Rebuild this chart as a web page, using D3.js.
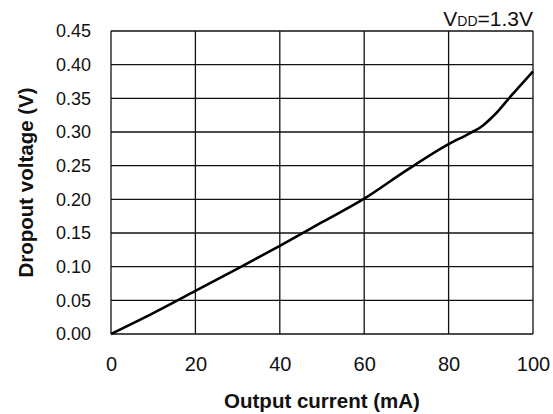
<!DOCTYPE html>
<html>
<head>
<meta charset="utf-8">
<script src="https://cdn.jsdelivr.net/npm/d3@7"></script>
<style>
  body { margin: 0; background: #fff; }
  text { font-family: "Liberation Sans", Arial, sans-serif; fill: #111; }
</style>
</head>
<body>
<div id="chart"></div>
<script>
// data
var currentMA = [0, 10, 20, 30, 40, 50, 60, 70, 80, 85, 88, 90, 92, 95, 100];
var dropoutV = [0, 0.031, 0.064, 0.097, 0.131, 0.166, 0.201, 0.243, 0.282, 0.298, 0.309, 0.32, 0.333, 0.355, 0.39];
var xTicks = [0, 20, 40, 60, 80, 100];
var yTicks = [0, 0.05, 0.10, 0.15, 0.20, 0.25, 0.30, 0.35, 0.40, 0.45];

var W = 553, H = 414;
var m = {left: 111, right: 20, top: 31, bottom: 80};

var svg = d3.select("#chart").append("svg").attr("width", W).attr("height", H);

var x = d3.scaleLinear().domain([0, 100]).range([m.left, W - m.right]);
var y = d3.scaleLinear().domain([0, 0.45]).range([H - m.bottom, m.top]);

// grid
svg.append("g").selectAll("line").data(xTicks).enter().append("line")
  .attr("x1", d => x(d)).attr("x2", d => x(d))
  .attr("y1", y(0)).attr("y2", y(0.45))
  .attr("stroke", "#111").attr("stroke-width", 1.3);
svg.append("g").selectAll("line").data(yTicks).enter().append("line")
  .attr("x1", x(0)).attr("x2", x(100))
  .attr("y1", d => y(d)).attr("y2", d => y(d))
  .attr("stroke", "#111").attr("stroke-width", 1.3);

// axes (labels only)
var xa = svg.append("g").attr("transform", "translate(0," + y(0) + ")")
  .call(d3.axisBottom(x).tickValues(xTicks).tickSize(0).tickPadding(23).tickFormat(d3.format("d")));
var ya = svg.append("g").attr("transform", "translate(" + x(0) + ",0)")
  .call(d3.axisLeft(y).tickValues(yTicks).tickSize(0).tickPadding(20).tickFormat(d3.format(".2f")));
xa.select(".domain").remove();
ya.select(".domain").remove();
xa.selectAll("text").style("font-size", "20px").style("font-family", "Liberation Sans, Arial, sans-serif").attr("fill", "#111");
ya.selectAll("text").style("font-size", "18px").style("font-family", "Liberation Sans, Arial, sans-serif").attr("fill", "#111");

// curve
var pts = currentMA.map((d, i) => [d, dropoutV[i]]);
svg.append("path").datum(pts)
  .attr("fill", "none").attr("stroke", "#000").attr("stroke-width", 2.6)
  .attr("d", d3.line().x(d => x(d[0])).y(d => y(d[1])).curve(d3.curveMonotoneX));

// titles
svg.append("text")
  .attr("x", (x(0) + x(100)) / 2).attr("y", 408)
  .attr("text-anchor", "middle")
  .style("font-size", "20.5px").style("font-weight", "bold")
  .text("Output current (mA)");
svg.append("text")
  .attr("transform", "translate(33," + (y(0) + y(0.45)) / 2 + ") rotate(-90)")
  .attr("text-anchor", "middle")
  .style("font-size", "20.5px").style("font-weight", "bold")
  .text("Dropout voltage (V)");

var vdd = svg.append("text")
  .attr("x", x(100)).attr("y", 26)
  .attr("text-anchor", "end")
  .style("font-size", "21px");
vdd.append("tspan").text("V");
vdd.append("tspan").style("font-size", "14px").text("DD");
vdd.append("tspan").text("=1.3V");
</script>
</body>
</html>
